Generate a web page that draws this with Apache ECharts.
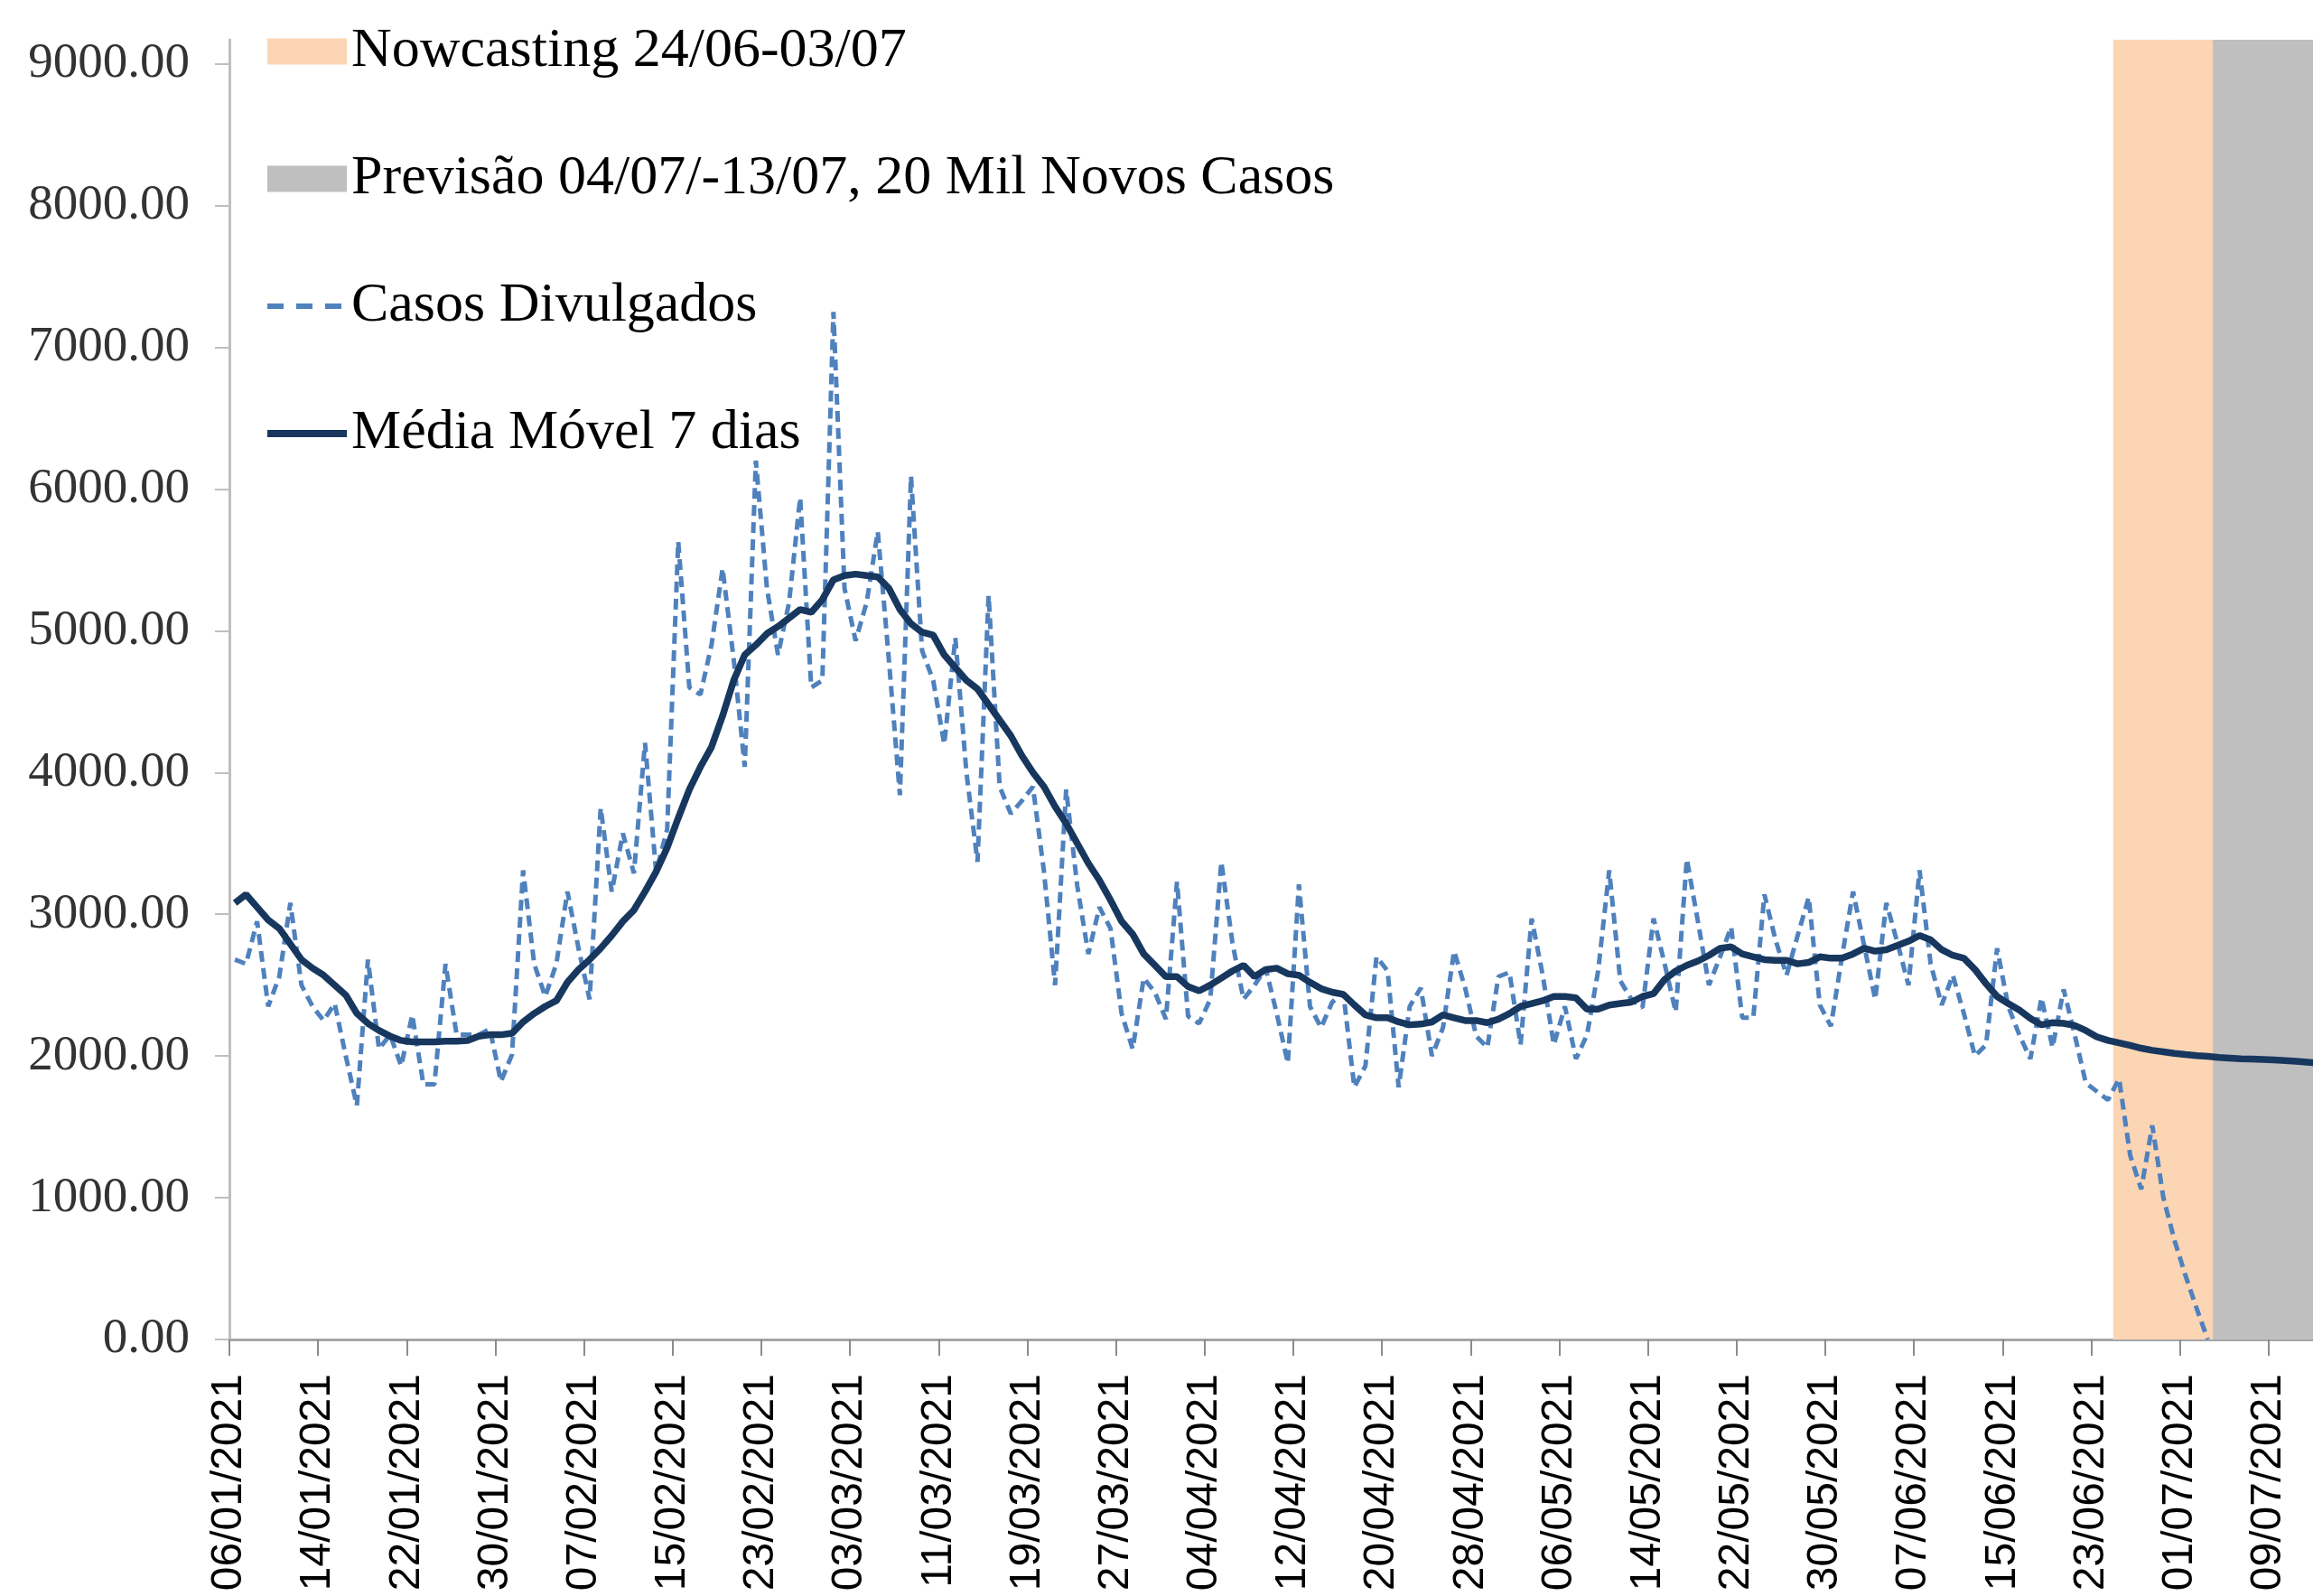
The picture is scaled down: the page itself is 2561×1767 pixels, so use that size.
<!DOCTYPE html>
<html>
<head>
<meta charset="UTF-8">
<title>Casos Divulgados - Média Móvel 7 dias</title>
<script src="https://cdn.jsdelivr.net/npm/echarts@6/dist/echarts.min.js"></script>
<style>html,body{margin:0;padding:0;background:#fff;}</style>
</head>
<body>

<div id="main" style="width:2561px;height:1767px"></div>

<script type="text/javascript">
// datas: 06/01/2021 ate 13/07/2021 (um ponto por dia)
var primeiroDia = new Date(2021, 0, 6);
var totalDias = 189;

// casos divulgados por dia (06/01 ate 03/07)
var casosDivulgados = [
    2680, 2650, 2950, 2350, 2560, 3080, 2500, 2350, 2250, 2370,
    2000, 1650, 2680, 2050, 2150, 1930, 2290, 1800, 1800, 2650,
    2150, 2150, 2150, 2190, 1820, 2010, 3310, 2650, 2420, 2650,
    3160, 2760, 2400, 3750, 3160, 3570, 3290, 4210, 3300, 3600,
    5630, 4600, 4550, 4900, 5440, 4800, 4040, 6200, 5300, 4830,
    5200, 5940, 4600, 4650, 7250, 5300, 4930, 5200, 5700, 4800,
    3840, 6090, 4860, 4650, 4200, 4950, 4000, 3370, 5250, 3900,
    3710, 3800, 3900, 3300, 2500, 3880, 3200, 2720, 3050, 2900,
    2300, 2050, 2550, 2450, 2260, 3230, 2280, 2230, 2400, 3370,
    2800, 2400, 2500, 2620, 2300, 1950, 3210, 2350, 2200, 2380,
    2450, 1780, 1930, 2700, 2600, 1780, 2350, 2480, 2000, 2200,
    2740, 2480, 2140, 2060, 2560, 2590, 2080, 2970, 2570, 2080,
    2350, 1980, 2150, 2600, 3310, 2530, 2400, 2340, 2970, 2650,
    2310, 3390, 2950, 2500, 2700, 2910, 2270, 2270, 3140, 2820,
    2570, 2850, 3120, 2360, 2210, 2700, 3160, 2780, 2400, 3080,
    2800, 2500, 3310, 2650, 2360, 2570, 2300, 2000, 2080, 2760,
    2350, 2150, 1980, 2410, 2060, 2470, 2150, 1810, 1750, 1690,
    1840, 1300, 1060, 1510, 1000, 700, 450, 220, 0
];

// media movel 7 dias (06/01 ate 13/07)
var mediaMovel = [
    3080, 3140, 3050, 2960, 2900, 2790, 2680, 2620, 2570, 2500,
    2430, 2300, 2230, 2180, 2140, 2110, 2100, 2100, 2100, 2105,
    2105, 2110, 2140, 2150, 2150, 2160, 2240, 2300, 2350, 2390,
    2520, 2610, 2680, 2760, 2850, 2950, 3030, 3160, 3300, 3470,
    3680, 3880, 4040, 4180, 4400, 4650, 4830, 4900, 4980, 5030,
    5090, 5150, 5130, 5220, 5360, 5390, 5400, 5390, 5380, 5300,
    5150, 5050, 4990, 4970, 4830, 4740, 4650, 4590, 4480, 4370,
    4260, 4120, 4000, 3900, 3760, 3640, 3500, 3360, 3240, 3100,
    2950, 2860, 2720, 2640, 2560, 2560, 2490, 2460, 2500, 2550,
    2600, 2640, 2560, 2610, 2620, 2580, 2570, 2520, 2475, 2450,
    2435, 2360, 2290, 2270, 2270, 2240, 2220, 2225, 2240, 2290,
    2270, 2250, 2250, 2235, 2260, 2300, 2350, 2370, 2390, 2420,
    2420, 2410, 2330, 2330, 2360, 2370, 2380, 2420, 2440, 2540,
    2600, 2640, 2670, 2710, 2760, 2770, 2720, 2700, 2680, 2675,
    2675, 2650, 2660, 2700, 2690, 2690, 2720, 2760, 2740, 2750,
    2780, 2810, 2850, 2820, 2750, 2710, 2690, 2610, 2510, 2420,
    2370, 2325, 2265, 2220, 2235, 2230, 2215, 2180, 2135, 2110,
    2093, 2075, 2055, 2040, 2030, 2018, 2010, 2003, 1998, 1990,
    1985, 1980, 1978, 1975, 1972, 1968, 1962, 1956, 1950
];

// periodos sombreados (primeiro e ultimo dia)
var periodoNowcasting = ['25/06/2021', '03/07/2021'];
var periodoPrevisao = ['04/07/2021', '13/07/2021'];

var yTicks = [0, 1000, 2000, 3000, 4000, 5000, 6000, 7000, 8000, 9000];
var yMax = 9170;

var nomes = {
    now: 'Nowcasting 24/06-03/07',
    prev: 'Previsão 04/07/-13/07, 20 Mil Novos Casos',
    casos: 'Casos Divulgados',
    media: 'Média Móvel 7 dias'
};

function dois(n) { return (n < 10 ? '0' : '') + n; }

var dias = [];
for (var i = 0; i < totalDias; i++) {
    var d = new Date(primeiroDia.getFullYear(), primeiroDia.getMonth(), primeiroDia.getDate() + i);
    dias.push(dois(d.getDate()) + '/' + dois(d.getMonth() + 1) + '/' + d.getFullYear());
}

function faixa(periodo) {
    var a = dias.indexOf(periodo[0]), b = dias.indexOf(periodo[1]);
    return dias.map(function (x, k) { return (k >= a && k <= b) ? yMax : null; });
}

var myChart = echarts.init(document.getElementById('main'), null, { renderer: 'canvas' });

// as series ficam no eixo 1 (pontos no meio do dia), os rotulos no eixo 0
var semSimbolo = { color: 'rgba(0,0,0,0)', borderWidth: 0, opacity: 0 };

var option = {
    animation: false,
    backgroundColor: '#ffffff',
    grid: { left: 254, top: 44, width: 2312, height: 1439, containLabel: false },
    legend: {
        orient: 'vertical',
        left: 287,
        top: 21,
        itemWidth: 88,
        itemHeight: 29,
        itemGap: 79,
        selectedMode: false,
        textStyle: { fontFamily: 'Liberation Serif', fontSize: 62, color: '#000', lineHeight: 62 },
        data: [
            { name: nomes.now, icon: 'rect' },
            { name: nomes.prev, icon: 'rect' },
            { name: nomes.casos, itemStyle: semSimbolo, lineStyle: { width: 6, type: [18, 14] } },
            { name: nomes.media, itemStyle: semSimbolo, lineStyle: { width: 8 } }
        ]
    },
    xAxis: [
        {
            type: 'category',
            data: dias,
            boundaryGap: false,
            axisLine: { lineStyle: { color: '#A6A6A6', width: 3 } },
            axisTick: { interval: 7, length: 18, lineStyle: { color: '#8C8C8C', width: 2 } },
            axisLabel: {
                interval: 7,
                rotate: 90,
                margin: 38,
                fontFamily: 'Liberation Sans',
                fontSize: 48,
                color: '#000'
            },
            splitLine: { show: false }
        },
        {
            type: 'category',
            data: dias,
            boundaryGap: true,
            max: totalDias - 2,
            show: false
        }
    ],
    yAxis: {
        type: 'value',
        min: 0,
        max: yMax,
        axisLine: { show: true, lineStyle: { color: '#BFBFBF', width: 3 } },
        axisTick: { show: true, length: 16, customValues: yTicks, lineStyle: { color: '#BFBFBF', width: 2 } },
        axisLabel: {
            customValues: yTicks,
            margin: 44,
            fontFamily: 'Liberation Serif',
            fontSize: 55,
            color: '#333',
            formatter: function (v) { return v.toFixed(2); }
        },
        splitLine: { show: false }
    },
    series: [
        {
            name: nomes.now,
            type: 'bar',
            xAxisIndex: 1,
            data: faixa(periodoNowcasting),
            barWidth: 13,
            silent: true,
            itemStyle: { color: '#FCD5B4' }
        },
        {
            name: nomes.prev,
            type: 'bar',
            xAxisIndex: 1,
            data: faixa(periodoPrevisao),
            barWidth: 13,
            barGap: '-100%',
            silent: true,
            itemStyle: { color: '#BFBFBF' }
        },
        {
            name: nomes.casos,
            type: 'line',
            xAxisIndex: 1,
            data: casosDivulgados,
            symbol: 'none',
            itemStyle: { color: '#4F81BD' },
            lineStyle: { color: '#4F81BD', width: 5, type: [12, 7] }
        },
        {
            name: nomes.media,
            type: 'line',
            xAxisIndex: 1,
            data: mediaMovel,
            symbol: 'none',
            itemStyle: { color: '#17375E' },
            lineStyle: { color: '#17375E', width: 7.5 }
        }
    ]
};

myChart.setOption(option);
</script>
</body>
</html>
